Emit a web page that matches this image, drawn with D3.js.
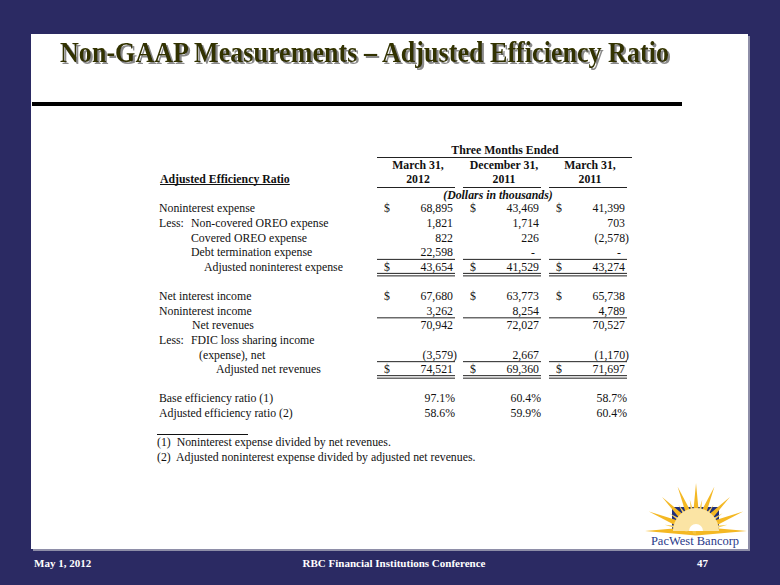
<!DOCTYPE html>
<html><head><meta charset="utf-8">
<script src="https://cdn.jsdelivr.net/npm/d3@7"></script>
<style>html,body{margin:0;padding:0;background:#2b2a63;} svg{display:block}</style>
</head><body><svg id="c" width="780" height="585"></svg>
<script>
// ---------------- data ----------------
const titleText = "Non-GAAP Measurements \u2013 Adjusted Efficiency Ratio";
const footerDate = "May 1, 2012";
const footerEvent = "RBC Financial Institutions Conference";
const pageNumber = "47";
const headerGroup = "Three Months Ended";
const periodMonths = ["March 31,", "December 31,", "March 31,"];
const periodYears = ["2012", "2011", "2011"];
const tableTitle = "Adjusted Efficiency Ratio";
const unitsNote = "(Dollars in thousands)";
const rowPrefixes = ["", "Less:", "", "", "", "", "", "", "Less:", "", "", "", ""];
const rowLabels = ["Noninterest expense", "Non-covered OREO expense", "Covered OREO expense",
  "Debt termination expense", "Adjusted noninterest expense", "Net interest income",
  "Noninterest income", "Net revenues", "FDIC loss sharing income", "(expense), net",
  "Adjusted net revenues", "Base efficiency ratio (1)", "Adjusted efficiency ratio (2)"];
const valuesMar2012 = [68895, 1821, 822, 22598, 43654, 67680, 3262, 70942, null, -3579, 74521, 97.1, 58.6];
const valuesDec2011 = [43469, 1714, 226, 0, 41529, 63773, 8254, 72027, null, 2667, 69360, 60.4, 59.9];
const valuesMar2011 = [41399, 703, -2578, 0, 43274, 65738, 4789, 70527, null, -1170, 71697, 58.7, 60.4];
const footnotes = ["(1)  Noninterest expense divided by net revenues.",
  "(2)  Adjusted noninterest expense divided by adjusted net revenues."];
const logoText = "PacWest Bancorp";

// ---------------- layout / style ----------------
const rowSlots = [4, 5, 6, 7, 8, 10, 11, 12, 13, 14, 15, 17, 18];
const rowTextX = [159, 191, 191, 191, 204, 159, 159, 192, 191, 199, 216, 159, 159];
const rowKind = ["$", "n", "n", "n", "$", "$", "n", "n", "x", "n", "$", "p", "p"];
const ruleAbove = [4, 7, 10];
const doubleBelow = [4, 10];

const svg = d3.select("#c");
const serif = "'Liberation Serif','Times New Roman',serif";
const FS = 11.8;

const defs = svg.append("defs");
const f = defs.append("filter").attr("id", "sh").attr("x", "-5%").attr("y", "-20%").attr("width", "110%").attr("height", "150%");
f.append("feDropShadow").attr("dx", 2).attr("dy", 2).attr("stdDeviation", 0.3).attr("flood-color", "#8a8a8a").attr("flood-opacity", 1);

// background + panel
svg.append("rect").attr("width", 780).attr("height", 585).attr("fill", "#2b2a63");
svg.append("rect").attr("x", 33).attr("y", 36).attr("width", 717).attr("height", 515).attr("fill", "#8e8ea8");
svg.append("rect").attr("x", 31).attr("y", 34).attr("width", 717).attr("height", 515).attr("fill", "#ffffff");

// title with shadow
svg.append("text").attr("x", 60).attr("y", 62)
  .attr("font-family", serif).attr("font-weight", "bold").attr("font-size", 29)
  .attr("textLength", 609).attr("lengthAdjust", "spacingAndGlyphs")
  .attr("fill", "#333300").attr("filter", "url(#sh)").text(titleText);
svg.append("rect").attr("x", 32).attr("y", 102).attr("width", 650).attr("height", 4).attr("fill", "#000");

// scales
const y = d3.scaleLinear().domain([0, 18]).range([150, 413]);
const xCol = d3.scaleBand().domain(d3.range(3)).range([374, 632]).paddingInner(0);
const bw = xCol.bandwidth();
const colRight = i => xCol(i) + 79;
const colDollar = i => xCol(i) + 13;
const base = s => y(s) + 4;

const g = svg.append("g").attr("font-family", serif).attr("font-size", FS).attr("fill", "#111");

// header
g.append("text").attr("x", 505).attr("y", base(0)).attr("text-anchor", "middle")
  .attr("font-weight", "bold").text(headerGroup);
g.append("line").attr("x1", 377).attr("x2", 632).attr("y1", 157.5).attr("y2", 157.5).attr("stroke", "#222");
periodMonths.forEach((m, i) => {
  const cx = xCol(i) + bw / 2 + 1;
  g.append("text").attr("x", cx).attr("y", base(1)).attr("text-anchor", "middle").attr("font-weight", "bold").text(m);
  g.append("text").attr("x", cx).attr("y", base(2)).attr("text-anchor", "middle").attr("font-weight", "bold").text(periodYears[i]);
  g.append("line").attr("x1", xCol(i) + 3).attr("x2", xCol(i) + 81).attr("y1", 187.5).attr("y2", 187.5).attr("stroke", "#222");
});
const tt = g.append("text").attr("x", 160).attr("y", base(2)).attr("font-weight", "bold").text(tableTitle);
const ttw = tt.node().getComputedTextLength();
g.append("line").attr("x1", 160).attr("x2", 160 + ttw).attr("y1", 184.5).attr("y2", 184.5).attr("stroke", "#111");
g.append("text").attr("x", 498).attr("y", base(3) + 1).attr("text-anchor", "middle")
  .attr("font-weight", "bold").attr("font-style", "italic").text(unitsNote);

// rows
const cols = [valuesMar2012, valuesDec2011, valuesMar2011];
const fmt = d3.format(",");
rowLabels.forEach((lab, r) => {
  const yy = base(rowSlots[r]);
  if (rowPrefixes[r]) g.append("text").attr("x", 159).attr("y", yy).text(rowPrefixes[r]);
  g.append("text").attr("x", rowTextX[r]).attr("y", yy).text(lab);
  cols.forEach((vals, c) => {
    const v = vals[r];
    if (v === null) return;
    if (rowKind[r] === "$") g.append("text").attr("x", colDollar(c)).attr("y", yy).attr("text-anchor", "middle").text("$");
    let txt, xr = colRight(c);
    if (rowKind[r] === "p") { txt = d3.format(".1f")(v) + "%"; xr += 2; }
    else if (v === 0) { txt = "-"; xr -= 4; }
    else if (v < 0) { txt = "(" + fmt(-v) + ")"; xr += 4; }
    else txt = fmt(v);
    g.append("text").attr("x", xr).attr("y", yy).attr("text-anchor", "end").text(txt);
  });
});
// rules
ruleAbove.forEach(r => {
  const yy = y(rowSlots[r]) - 7.5;
  d3.range(3).forEach(c => g.append("line").attr("x1", xCol(c) + 3).attr("x2", xCol(c) + 81)
    .attr("y1", yy).attr("y2", yy).attr("stroke", "#222"));
});
doubleBelow.forEach(r => {
  const yy = y(rowSlots[r]) + 6.5;
  d3.range(3).forEach(c => [0, 2.5].forEach(o => g.append("line").attr("x1", xCol(c) + 3).attr("x2", xCol(c) + 81)
    .attr("y1", yy + o).attr("y2", yy + o).attr("stroke", "#222")));
});
// footnotes
g.append("line").attr("x1", 157).attr("x2", 248).attr("y1", 434.5).attr("y2", 434.5).attr("stroke", "#111");
footnotes.forEach((f, i) => g.append("text").attr("x", 157).attr("y", 446 + i * 15).attr("xml:space", "preserve").text(f));

// footer
const ft = svg.append("g").attr("font-family", serif).attr("font-weight", "bold").attr("font-size", 11).attr("fill", "#fff");
ft.append("text").attr("x", 34).attr("y", 567).text(footerDate);
ft.append("text").attr("x", 394).attr("y", 567).attr("text-anchor", "middle").text(footerEvent);
ft.append("text").attr("x", 697).attr("y", 567).text(pageNumber);

// logo
const L = svg.append("g");
const cx = 696, cy = 531;
L.append("rect").attr("x", 672).attr("y", 507).attr("width", 47).attr("height", 24).attr("fill", "#1f2f7c");
const rays = d3.range(17).map(i => ({ a: Math.PI * i / 16, long: i % 2 === 0 }));
rays.forEach(d => {
  const len = d.long ? (Math.abs(Math.cos(d.a)) > 0.9 ? 51 : 48) : 32;
  const hw = d.long ? 4.5 : 3.5;
  const tip = [cx - Math.cos(d.a) * len, cy - Math.sin(d.a) * len];
  const nx = Math.sin(d.a) * hw, ny = -Math.cos(d.a) * hw;
  L.append("path").attr("d", `M${cx + nx},${cy + ny}L${tip[0]},${tip[1]}L${cx - nx},${cy - ny}Z`)
    .attr("fill", d.long ? "#f4b823" : "#f7cf5e");
});
L.append("path").attr("d", d3.arc()({ innerRadius: 0, outerRadius: 23, startAngle: -Math.PI / 2, endAngle: Math.PI / 2 }))
  .attr("transform", `translate(${cx},${cy})`).attr("fill", "#fbe4a4");
L.append("path").attr("d", d3.arc()({ innerRadius: 0, outerRadius: 7, startAngle: -Math.PI / 2, endAngle: Math.PI / 2 }))
  .attr("transform", `translate(${cx},${cy})`).attr("fill", "#fff");
L.append("text").attr("x", 695).attr("y", 545).attr("text-anchor", "middle")
  .attr("font-family", serif).attr("font-size", 12.5).attr("fill", "#2b3a8a").text(logoText);
</script></body></html>
